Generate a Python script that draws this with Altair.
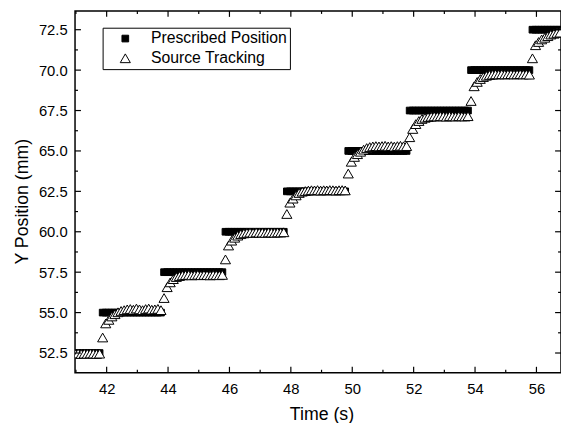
import altair as alt
import pandas as pd

# ---------------- data ----------------
START = 40.97          # first sample time (s)
DT = 0.1               # sampling interval (s)

series_names = ["Prescribed Position", "Source Tracking"]

prescribed_levels = [52.5, 55.0, 57.5, 60.0, 62.5, 65.0, 67.5, 70.0, 72.5]
segment_lengths = [9, 20, 20, 20, 20, 20, 20, 20, 10]

tracking_52_5 = [52.45, 52.47, 52.44, 52.46, 52.45, 52.47, 52.46, 52.44, 52.46]
tracking_55_0 = [53.46, 54.33, 54.55, 54.76, 54.90, 55.02, 55.10, 55.15, 55.20, 55.22,
                 55.18, 55.25, 55.20, 55.15, 55.22, 55.25, 55.18, 55.20, 55.23, 55.15]
tracking_57_5 = [55.90, 56.57, 56.87, 57.07, 57.20, 57.26, 57.30, 57.32, 57.33, 57.30,
                 57.32, 57.34, 57.31, 57.33, 57.32, 57.30, 57.33, 57.32, 57.31, 57.33]
tracking_60_0 = [58.29, 59.15, 59.45, 59.63, 59.76, 59.85, 59.90, 59.93, 59.95, 59.93,
                 59.96, 59.94, 59.95, 59.93, 59.96, 59.95, 59.94, 59.96, 59.95, 59.97]
tracking_62_5 = [61.10, 61.80, 62.05, 62.25, 62.40, 62.48, 62.52, 62.55, 62.57, 62.56,
                 62.58, 62.55, 62.57, 62.56, 62.58, 62.57, 62.55, 62.57, 62.58, 62.56]
tracking_65_0 = [63.60, 64.33, 64.63, 64.80, 64.95, 65.08, 65.18, 65.24, 65.28, 65.30,
                 65.28, 65.30, 65.32, 65.28, 65.30, 65.27, 65.30, 65.32, 65.29, 65.30]
tracking_67_5 = [65.85, 66.36, 66.66, 66.85, 66.98, 67.05, 67.10, 67.12, 67.14, 67.13,
                 67.15, 67.14, 67.12, 67.15, 67.14, 67.13, 67.15, 67.14, 67.13, 67.15]
tracking_70_0 = [68.09, 69.00, 69.27, 69.45, 69.57, 69.65, 69.70, 69.72, 69.74, 69.73,
                 69.75, 69.73, 69.74, 69.75, 69.73, 69.74, 69.75, 69.73, 69.74, 69.72]
tracking_72_5 = [70.73, 71.54, 71.74, 71.90, 72.00, 72.10, 72.20, 72.25, 72.30, 72.32]

tracking_segments = [tracking_52_5, tracking_55_0, tracking_57_5, tracking_60_0,
                     tracking_62_5, tracking_65_0, tracking_67_5, tracking_70_0,
                     tracking_72_5]

x_major = [42, 44, 46, 48, 50, 52, 54, 56]
x_minor = [41, 43, 45, 47, 49, 51, 53, 55]
y_major = [52.5, 55.0, 57.5, 60.0, 62.5, 65.0, 67.5, 70.0, 72.5]
y_minor = [53.75, 56.25, 58.75, 61.25, 63.75, 66.25, 68.75, 71.25]

X_DOMAIN = [40.97, 56.80]
Y_DOMAIN = [51.28, 73.66]

# ---------------- build table ----------------
rows = []
n = 0
for level, count in zip(prescribed_levels, segment_lengths):
    for _ in range(count):
        rows.append({"t": round(START + DT * n, 3), "v": level, "series": series_names[0]})
        n += 1
n = 0
for seg in tracking_segments:
    for val in seg:
        rows.append({"t": round(START + DT * n, 3), "v": val, "series": series_names[1]})
        n += 1
df = pd.DataFrame(rows)
df["idx"] = range(len(df))

W, H = 493, 367
FONT = "Liberation Sans"


def xenc():
    return alt.X("t:Q", scale=alt.Scale(domain=X_DOMAIN, nice=False, zero=False),
                 axis=alt.Axis(values=x_major, title="Time (s)", format="d",
                               labelPadding=9, titleX=250, titleY=42,
                               titleBaseline="middle"))


def yenc():
    return alt.Y("v:Q", scale=alt.Scale(domain=Y_DOMAIN, nice=False, zero=False),
                 axis=alt.Axis(values=y_major, title="Y Position (mm)", format=".1f",
                               labelPadding=8, titleX=-53, titleY=193,
                               titleBaseline="middle", titleAlign="center"))


leg = alt.Legend(title=None, orient="none", legendX=28, legendY=17,
                 strokeColor="black", fillColor="white", padding=3, rowPadding=4,
                 labelFontSize=16, labelFont=FONT, labelColor="black",
                 symbolStrokeColor="black", symbolStrokeWidth=1,
                 symbolOffset=12, labelOffset=18)

points = alt.Chart(df).mark_point(clip=True, opacity=1, strokeWidth=1).encode(
    x=xenc(),
    y=yenc(),
    shape=alt.Shape("series:N", scale=alt.Scale(domain=series_names,
                                                range=["square", "triangle-up"]), legend=leg),
    fill=alt.Fill("series:N", scale=alt.Scale(domain=series_names,
                                              range=["black", "white"]), legend=leg),
    stroke=alt.Stroke("series:N", scale=alt.Scale(domain=series_names,
                                                  range=["black", "black"]), legend=leg),
    size=alt.Size("series:N", scale=alt.Scale(domain=series_names,
                                              range=[46, 105]), legend=leg),
    order=alt.Order("idx:Q"),
)


def xticks(vals, length):
    d = pd.DataFrame({"t": vals})
    bottom = alt.Chart(d).mark_rule(color="black", strokeWidth=1.2).encode(
        x=xenc(), y=alt.value(H), y2=alt.value(H - length))
    top = alt.Chart(d).mark_rule(color="black", strokeWidth=1.2).encode(
        x=xenc(), y=alt.value(0), y2=alt.value(length))
    return [bottom, top]


def yticks(vals, length):
    d = pd.DataFrame({"v": vals})
    left = alt.Chart(d).mark_rule(color="black", strokeWidth=1.2).encode(
        y=yenc(), x=alt.value(0), x2=alt.value(length))
    right = alt.Chart(d).mark_rule(color="black", strokeWidth=1.2).encode(
        y=yenc(), x=alt.value(W), x2=alt.value(W - length))
    return [left, right]


layers = [points] + xticks(x_major, 6) + xticks(x_minor, 3) + yticks(y_major, 6) + yticks(y_minor, 3)

chart = alt.layer(*layers).properties(
    width=W, height=H,
    autosize=alt.AutoSizeParams(type="none"),
    padding={"left": 68, "top": 0, "right": 0, "bottom": 48},
).configure(
    font=FONT
).configure_view(
    stroke="black", strokeWidth=1.5
).configure_axis(
    domain=False, grid=False, ticks=False, tickSize=0,
    labelFont=FONT, labelFontSize=15, labelColor="black",
    titleFont=FONT, titleFontSize=18, titleFontWeight="normal", titleColor="black",
)

chart.save("out.html", embed_options={"renderer": "svg", "actions": False})
